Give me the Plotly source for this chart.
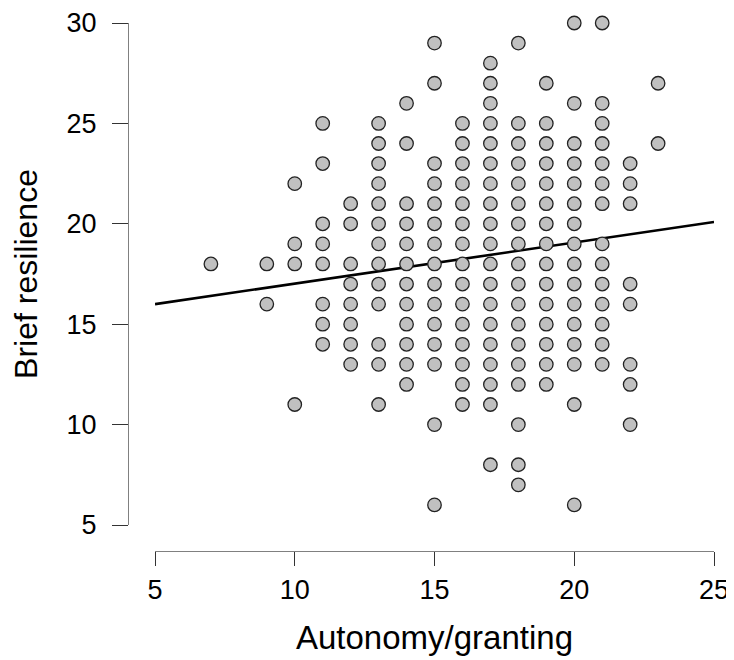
import plotly.graph_objects as go

# Data (x = Autonomy/granting, y values at each x)
columns = {
    7:  [18],
    9:  [18, 16],
    10: [22, 19, 18, 11],
    11: [25, 23, 20, 19, 18, 16, 15, 14],
    12: [21, 20, 18, 17, 16, 15, 14, 13],
    13: [25, 24, 23, 22, 21, 20, 19, 18, 17, 16, 14, 13, 11],
    14: [26, 24, 21, 20, 19, 18, 17, 16, 15, 14, 13, 12],
    15: [29, 27, 23, 22, 21, 20, 19, 18, 17, 16, 15, 14, 13, 10, 6],
    16: [25, 24, 23, 22, 21, 20, 19, 18, 17, 16, 15, 14, 13, 12, 11],
    17: [28, 27, 26, 25, 24, 23, 22, 21, 20, 19, 18, 17, 16, 15, 14, 13, 12, 11, 8],
    18: [29, 25, 24, 23, 22, 21, 20, 19, 18, 17, 16, 15, 14, 13, 12, 10, 8, 7],
    19: [27, 25, 24, 23, 22, 21, 20, 19, 18, 17, 16, 15, 14, 13, 12],
    20: [30, 26, 24, 23, 22, 21, 20, 19, 18, 17, 16, 15, 14, 13, 11, 6],
    21: [30, 26, 25, 24, 23, 22, 21, 19, 18, 17, 16, 15, 14, 13],
    22: [23, 22, 21, 17, 16, 13, 12, 10],
    23: [27, 24],
}
x_vals = [x for x, ys in columns.items() for _ in ys]
y_vals = [y for ys in columns.values() for y in ys]

# Regression line endpoints
line_x = [5, 25]
line_y = [16.0, 20.09]

x_ticks = [5, 10, 15, 20, 25]
y_ticks = [5, 10, 15, 20, 25, 30]

fig = go.Figure()
fig.add_trace(go.Scatter(
    x=line_x, y=line_y, mode="lines",
    line=dict(color="black", width=2.6),
    showlegend=False, hoverinfo="skip", cliponaxis=False,
))
fig.add_trace(go.Scatter(
    x=x_vals, y=y_vals, mode="markers",
    marker=dict(symbol="circle", size=13.5, color="#c0c0c0",
                line=dict(color="#222222", width=1.3)),
    showlegend=False, cliponaxis=False,
))

font_family = "Liberation Sans, Arial, sans-serif"
# page body has an 8px margin, so the figure starts at (8, 8)
W, H = 726, 652
ml, mr, mt, mb = 120, 20, 15, 109
pw, ph = W - ml - mr, H - mt - mb
fig.update_layout(
    width=W, height=H,
    margin=dict(l=ml, r=mr, t=mt, b=mb, autoexpand=False),
    plot_bgcolor="white", paper_bgcolor="white",
    font=dict(family=font_family, color="black"),
    xaxis=dict(
        range=[5, 25], domain=[27 / pw, 1], anchor="free", position=0,
        tickvals=x_ticks, ticks="outside", ticklen=14, tickwidth=1.2,
        tickcolor="#333333", showline=True, linecolor="#808080", linewidth=1.2,
        showgrid=False, zeroline=False, tickfont=dict(size=27),
        automargin=False,
        title=dict(text="Autonomy/granting", font=dict(size=33), standoff=22),
    ),
    yaxis=dict(
        range=[5, 30], domain=[26 / ph, 1], anchor="free", position=0,
        tickvals=y_ticks, ticks="outside", ticklen=16, tickwidth=1.2,
        tickcolor="#333333", showline=True, linecolor="#808080", linewidth=1.2,
        showgrid=False, zeroline=False, tickfont=dict(size=27),
        ticklabelstandoff=10, automargin=False,
        title=dict(text="Brief resilience", font=dict(size=32), standoff=18),
    ),
)

fig.write_html("out.html")
